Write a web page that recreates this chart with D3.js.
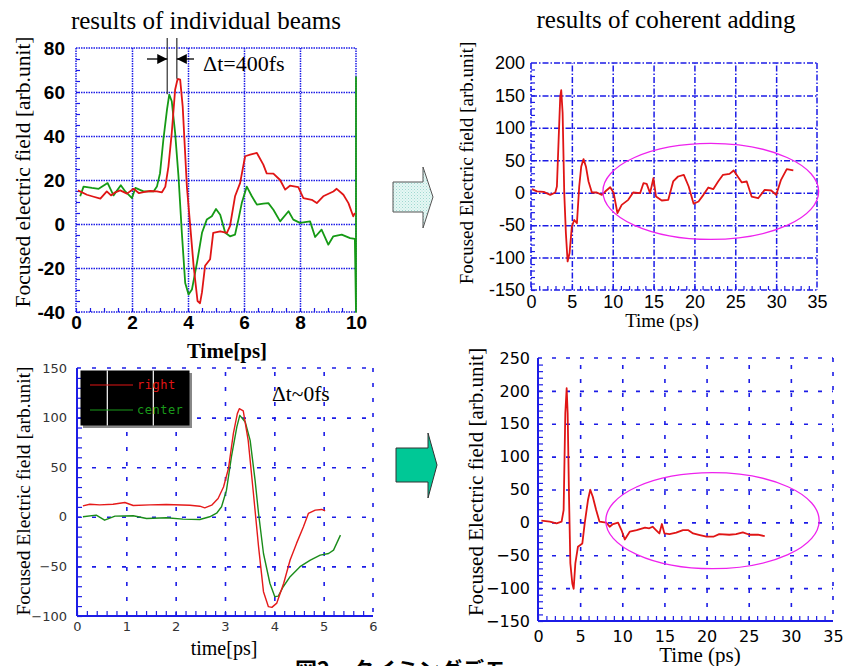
<!DOCTYPE html>
<html>
<head>
<meta charset="utf-8">
<script src="https://cdn.jsdelivr.net/npm/d3@7"></script>
<style>
  body { margin: 0; background: #fff; }
</style>
</head>
<body>
<script>
// ---- data: [time ps, field] ----
var beamRight = [[0.07,15.3],[0.39,13.3],[0.6,12.5],[0.87,11.5],[1.1,14.8],[1.25,13],[1.4,14.4],[1.58,15.3],[1.82,13.8],[2.06,16],
  [2.25,14],[2.41,14.5],[2.65,15],[2.89,14.8],[3.07,14.4],[3.19,17],[3.3,26],[3.42,41.4],[3.54,61],[3.63,66],[3.72,65.6],[3.81,53.5],
  [3.96,17],[4.08,-1],[4.2,-19],[4.34,-35],[4.43,-36],[4.5,-31],[4.61,-19],[4.79,-16],[4.9,-4],[5.15,-3.3],[5.39,-4],[5.5,-1],
  [5.68,12.6],[5.86,18.6],[6.04,30.8],[6.22,31.5],[6.46,32.3],[6.69,27],[6.81,23],[7.05,22.9],[7.29,20],[7.47,15.6],[7.64,17.4],
  [7.94,16.8],[8.12,11.8],[8.42,11],[8.6,9.5],[8.83,12.6],[9.19,14.8],[9.31,16],[9.55,13.3],[9.73,9.5],[9.9,3.5],[9.96,5]];
var beamCenter = [[0.15,12.6],[0.27,17],[0.57,16.4],[0.81,16],[1.13,18.6],[1.34,13],[1.6,17.6],[1.76,14.8],[2.0,11.8],[2.12,16.4],
  [2.41,14.8],[2.77,14.8],[2.89,17],[3.0,23],[3.12,38.3],[3.25,52],[3.33,58.8],[3.42,55.8],[3.54,41.4],[3.66,21.7],[3.78,-4],
  [3.9,-26.8],[4.02,-32],[4.14,-29.8],[4.32,-17.7],[4.5,-4],[4.67,2],[4.85,3.5],[5.0,6.8],[5.15,4.2],[5.33,-4],[5.5,-5.6],
  [5.68,-4.8],[5.8,2],[5.92,9.5],[6.1,17],[6.28,12.6],[6.46,8.8],[6.69,9.3],[6.87,9.5],[7.05,6.5],[7.29,1.2],[7.59,5.8],[7.76,2],
  [8.0,0.5],[8.36,1.2],[8.54,-5.9],[8.77,-2.6],[9.01,-9.4],[9.19,-5.6],[9.49,-4.8],[9.79,-6.4],[9.96,-6.8],[10,-40],[10,67]];
var addedOffset = [[0.12,5.5],[0.73,2],[1.55,1.3],[2.36,-3.3],[2.97,0.3],[3.17,9.6],[3.38,81.6],[3.58,148.5],[3.7,158],[3.87,123],
  [4.07,-0.7],[4.27,-62.5],[4.48,-106],[4.72,-93],[5.0,-52],[5.29,-42],[5.62,-47],[5.9,9.6],[6.15,40.5],[6.43,51.8],[6.72,40.5],
  [7.04,17.3],[7.45,0.3],[8.06,0.3],[8.67,-3.3],[9.08,1.8],[9.69,8.5],[10.1,0.3],[10.58,-31.6],[11.1,-18.7],[11.9,-11],[12.5,0.3],
  [13.35,-0.7],[13.76,14.7],[14.16,13.7],[14.57,-0.7],[14.98,22.4],[15.3,-5.9],[16.0,-12],[16.8,-11],[17.4,17.3],[18.0,25],
  [18.7,27.6],[19.3,9.6],[19.9,-17],[20.5,-13.6],[21.1,-3.3],[21.7,8],[22.3,5.5],[22.9,17.3],[23.5,27.6],[24.3,29],[24.8,34.3],
  [25.3,25],[25.8,15.8],[26.4,17.3],[27.0,-5.9],[27.8,-8.5],[28.6,4.4],[29.4,3.4],[30.0,-3.3],[30.6,19.9],[31.3,36.3],[32.1,34.3]];
var alignRight = [[0.12,11],[0.26,12.7],[0.46,12],[0.73,12.7],[0.97,14.4],[1.14,11.4],[1.48,12],[1.81,12.4],[2.29,11.7],[2.49,10.7],
  [2.59,9],[2.73,11.7],[2.86,18.5],[2.97,30],[3.07,48.7],[3.17,84],[3.25,104],[3.29,109],[3.37,106.7],[3.47,77],[3.57,26.8],
  [3.68,-30],[3.78,-75.5],[3.88,-90.6],[3.95,-91.3],[4.05,-87],[4.19,-67],[4.32,-43.6],[4.45,-26.8],[4.59,-10],[4.69,3.4],
  [4.83,6.7],[4.96,7.4],[5.03,6]];
var alignCenter = [[0.12,0],[0.39,1.7],[0.56,-3.4],[0.77,0.7],[1.14,1],[1.41,-1.7],[1.81,-1],[2.15,-2.3],[2.49,-2.7],[2.69,0],
  [2.83,3.6],[2.93,10.1],[3.03,26.8],[3.13,60.4],[3.24,90.6],[3.3,102.3],[3.41,95.6],[3.51,77],[3.61,36.8],[3.68,3.4],[3.78,-37],
  [3.91,-67],[4.01,-80.5],[4.08,-80],[4.18,-70.5],[4.32,-60.4],[4.52,-50.3],[4.73,-43.6],[4.93,-38.6],[5.1,-37],[5.2,-33.6],[5.34,-18.5]];
var addedAligned = [[0.4,2.5],[1.4,1],[2.2,-1.5],[2.8,1],[3.04,18.7],[3.24,166],[3.4,204],[3.52,166],[3.68,39],[3.84,-62.5],
  [4.07,-93],[4.23,-101],[4.43,-62.5],[4.74,-37],[5.26,-32],[5.54,-1.5],[5.93,34],[6.2,49.6],[6.5,39],[6.9,18.7],[7.3,1],
  [8.1,-0.5],[8.5,-6.6],[8.9,-2.5],[9.5,-0.5],[9.9,-11.7],[10.3,-26],[10.9,-14],[11.7,-11.7],[12.7,-8],[13.2,-9],[13.6,-6.6],
  [14.0,-11.7],[14.4,-16.8],[14.7,-2.5],[15.0,-16.8],[15.6,-17.8],[16.4,-15.7],[17.2,-11.7],[17.8,-11.7],[18.4,-16.8],[19.2,-19.4],
  [20.0,-21.8],[20.8,-21.8],[21.5,-17.8],[22.7,-18.8],[23.5,-17.8],[24.3,-15.3],[25.1,-18.8],[26.1,-18.8],[26.9,-21]];

// ticks
var p1XTicks = [0, 2, 4, 6, 8, 10], p1YTicks = [-40, -20, 0, 20, 40, 60, 80];
var p2XTicks = [0, 5, 10, 15, 20, 25, 30, 35], p2YTicks = [-150, -100, -50, 0, 50, 100, 150, 200];
var p3XTicks = [0, 1, 2, 3, 4, 5, 6], p3YTicks = [-100, -50, 0, 50, 100, 150];
var p4XTicks = [0, 5, 10, 15, 20, 25, 30, 35], p4YTicks = [-150, -100, -50, 0, 50, 100, 150, 200, 250];

var width = 853, height = 666;
var svg = d3.select("body").append("svg")
    .attr("width", width)
    .attr("height", height)
    .style("font-family", "'Liberation Serif', serif");

var blue = "#1c1ce6";
var serif = "'Liberation Serif', 'Times New Roman', serif";

function panel(o) {
  var x = d3.scaleLinear().domain(o.xDomain).range([o.left, o.right]);
  var y = d3.scaleLinear().domain(o.yDomain).range([o.bottom, o.top]);
  var w = o.right - o.left, h = o.bottom - o.top;
  var g = svg.append("g");

  var inX = o.xTicks.slice(1, -1), inY = o.yTicks.slice(1, -1);
  // grid
  g.append("g").attr("transform", "translate(0," + o.bottom + ")")
      .call(d3.axisBottom(x).tickValues(inX).tickSize(-h).tickFormat(""))
      .call(function(a) { a.select(".domain").remove(); })
      .selectAll("line").attr("stroke", blue).attr("stroke-width", o.gridWidth).attr("stroke-dasharray", o.gridDash);
  g.append("g").attr("transform", "translate(" + o.left + ",0)")
      .call(d3.axisLeft(y).tickValues(inY).tickSize(-w).tickFormat(""))
      .call(function(a) { a.select(".domain").remove(); })
      .selectAll("line").attr("stroke", blue).attr("stroke-width", o.gridWidth).attr("stroke-dasharray", o.gridDash);

  // minor ticks
  g.append("g").attr("transform", "translate(" + o.left + ",0)")
      .call(d3.axisLeft(y).tickValues(d3.range(o.yDomain[0], o.yDomain[1], o.yMinor)).tickSize(-o.minorLen).tickFormat(""))
      .call(function(a) { a.select(".domain").remove(); })
      .selectAll("line").attr("stroke", blue).attr("stroke-width", 1.2);
  g.append("g").attr("transform", "translate(0," + o.bottom + ")")
      .call(d3.axisBottom(x).tickValues(d3.range(o.xDomain[0], o.xDomain[1], o.xMinor)).tickSize(-o.minorLen).tickFormat(""))
      .call(function(a) { a.select(".domain").remove(); })
      .selectAll("line").attr("stroke", blue).attr("stroke-width", 1.2);

  // frame
  var top = g.append("g").attr("fill", "none").attr("stroke", blue);
  top.append("line").attr("x1", o.left).attr("x2", o.right).attr("y1", o.top).attr("y2", o.top)
      .attr("stroke-width", o.gridWidth).attr("stroke-dasharray", o.gridDash);
  top.append("line").attr("x1", o.right).attr("x2", o.right).attr("y1", o.top).attr("y2", o.bottom)
      .attr("stroke-width", o.gridWidth).attr("stroke-dasharray", o.gridDash);
  top.append("line").attr("x1", o.left).attr("x2", o.left).attr("y1", o.top).attr("y2", o.bottom)
      .attr("stroke-width", o.axisWidth).attr("stroke-dasharray", o.axisDash);
  top.append("line").attr("x1", o.left).attr("x2", o.right).attr("y1", o.bottom).attr("y2", o.bottom)
      .attr("stroke-width", o.axisWidth).attr("stroke-dasharray", o.axisDash);

  // tick labels
  var fmt = o.fmt || function(d) { return String(d); };
  var ax = g.append("g").attr("transform", "translate(0," + o.bottom + ")")
      .call(d3.axisBottom(x).tickValues(o.xTicks).tickSize(0).tickPadding(o.xPad).tickFormat(fmt));
  var ay = g.append("g").attr("transform", "translate(" + o.left + ",0)")
      .call(d3.axisLeft(y).tickValues(o.yTicks).tickSize(0).tickPadding(o.yPad).tickFormat(fmt));
  [ax, ay].forEach(function(a) {
    a.select(".domain").remove();
    a.attr("font-family", o.tickFont).attr("font-size", o.tickSize);
    a.selectAll("text").attr("fill", o.tickColor).attr("font-weight", o.tickWeight || "normal");
  });

  // axis titles
  svg.append("text")
      .attr("transform", "translate(" + o.yLabelX + "," + ((o.yLabelY)) + ") rotate(-90)")
      .attr("text-anchor", "middle")
      .attr("font-family", serif)
      .attr("font-size", o.yLabelSize)
      .text(o.yLabel);
  svg.append("text")
      .attr("x", o.xLabelX).attr("y", o.xLabelY)
      .attr("text-anchor", "middle")
      .attr("font-family", serif)
      .attr("font-size", o.xLabelSize)
      .attr("font-weight", o.xLabelWeight || "normal")
      .text(o.xLabel);

  return { x: x, y: y, g: g };
}

function curve(p, data, color, wdt) {
  var line = d3.line().x(function(d) { return p.x(d[0]); }).y(function(d) { return p.y(d[1]); });
  p.g.append("path").datum(data)
      .attr("d", line)
      .attr("fill", "none")
      .attr("stroke", color)
      .attr("stroke-width", wdt)
      .attr("stroke-linejoin", "round");
}

function ring(p, cx, cy, rx, ry) {
  p.g.append("ellipse")
      .attr("cx", p.x(cx)).attr("cy", p.y(cy))
      .attr("rx", p.x(cx + rx) - p.x(cx)).attr("ry", p.y(cy - ry) - p.y(cy))
      .attr("fill", "none").attr("stroke", "#ee22ee").attr("stroke-width", 1.3);
}

// ---- panel 1: individual beams ----
var p1 = panel({
  left: 76, right: 356, top: 48, bottom: 312,
  xDomain: [0, 10], yDomain: [-40, 80], xTicks: p1XTicks, yTicks: p1YTicks,
  xMinor: 0.5, yMinor: 5, minorLen: 4,
  gridDash: "1.5,1", gridWidth: 1.5, axisDash: "1.5,1", axisWidth: 1.5,
  tickFont: "'Liberation Sans', Arial, sans-serif", tickSize: 19, tickColor: "#000", tickWeight: "bold",
  xPad: 3, yPad: 11,
  yLabel: "Focused electric field [arb.unit]", yLabelX: 30, yLabelY: 172, yLabelSize: 21.5,
  xLabel: "Time[ps]", xLabelX: 227, xLabelY: 358, xLabelSize: 21, xLabelWeight: "bold"
});
curve(p1, beamCenter, "#159a15", 1.8);
curve(p1, beamRight, "#e01515", 1.8);

// delta t marker
var dt = p1.g.append("g");
dt.append("line").attr("x1", p1.x(3.26)).attr("x2", p1.x(3.26)).attr("y1", 38).attr("y2", p1.y(59))
    .attr("stroke", "#555").attr("stroke-width", 1.5);
dt.append("line").attr("x1", p1.x(3.6)).attr("x2", p1.x(3.6)).attr("y1", 38).attr("y2", p1.y(66))
    .attr("stroke", "#555").attr("stroke-width", 1.5);
var ay0 = 59;
dt.append("line").attr("x1", 147).attr("x2", p1.x(3.26)).attr("y1", ay0).attr("y2", ay0).attr("stroke", "#000").attr("stroke-width", 1.3);
dt.append("line").attr("x1", p1.x(3.6)).attr("x2", 194).attr("y1", ay0).attr("y2", ay0).attr("stroke", "#000").attr("stroke-width", 1.3);
var lx = p1.x(3.26), rx = p1.x(3.6);
dt.append("path").attr("d", "M" + lx + "," + ay0 + "L" + (lx - 10) + "," + (ay0 - 5) + "L" + (lx - 10) + "," + (ay0 + 5) + "Z").attr("fill", "#000");
dt.append("path").attr("d", "M" + rx + "," + ay0 + "L" + (rx + 10) + "," + (ay0 - 5) + "L" + (rx + 10) + "," + (ay0 + 5) + "Z").attr("fill", "#000");
svg.append("text").attr("x", 203).attr("y", 71).attr("font-family", serif).attr("font-size", 22).text("\u0394t=400fs");
svg.append("text").attr("x", 206).attr("y", 29).attr("text-anchor", "middle").attr("font-family", serif).attr("font-size", 25)
    .text("results of individual beams");

// ---- panel 2: coherent adding ----
var p2 = panel({
  left: 531, right: 817, top: 63, bottom: 290,
  xDomain: [0, 35], yDomain: [-150, 200], xTicks: p2XTicks, yTicks: p2YTicks,
  xMinor: 1, yMinor: 10, minorLen: 4,
  gridDash: "6,2,1.5,2", gridWidth: 1.5, axisDash: "6,2,1.5,2", axisWidth: 1.6,
  tickFont: "'Liberation Sans', Arial, sans-serif", tickSize: 18, tickColor: "#000",
  xPad: 5, yPad: 6,
  yLabel: "Focused Electric field [arb.unit]", yLabelX: 473, yLabelY: 163, yLabelSize: 19,
  xLabel: "Time (ps)", xLabelX: 662, xLabelY: 327, xLabelSize: 19
});
curve(p2, addedOffset, "#e01515", 1.8);
ring(p2, 22, 2, 13.2, 74);
svg.append("text").attr("x", 666).attr("y", 28).attr("text-anchor", "middle").attr("font-family", serif).attr("font-size", 25)
    .text("results of coherent adding");

// ---- panel 3: aligned beams ----
var p3 = panel({
  left: 77, right: 373, top: 368, bottom: 616,
  xDomain: [0, 6], yDomain: [-100, 150], xTicks: p3XTicks, yTicks: p3YTicks,
  xMinor: 0.2, yMinor: 10, minorLen: 5,
  gridDash: "4,11", gridWidth: 1.6, axisDash: null, axisWidth: 2,
  tickFont: "'DejaVu Sans', sans-serif", tickSize: 13, tickColor: "#333",
  fmt: d3.format("d"),
  xPad: 6, yPad: 10,
  yLabel: "Focused Electric field [arb.unit]", yLabelX: 30, yLabelY: 491, yLabelSize: 19.5,
  xLabel: "time[ps]", xLabelX: 224, xLabelY: 655, xLabelSize: 20
});
curve(p3, alignCenter, "#1a8c1a", 1.4);
curve(p3, alignRight, "#e51a1a", 1.4);

// legend
var leg = svg.append("g");
leg.append("rect").attr("x", 83).attr("y", 373).attr("width", 109).attr("height", 55).attr("fill", "#888");
leg.append("rect").attr("x", 80.5).attr("y", 370.5).attr("width", 109).attr("height", 55).attr("fill", "#000");
[107.3, 153.3].forEach(function(v) {
  leg.append("line").attr("x1", v).attr("x2", v).attr("y1", 370.5).attr("y2", 425.5).attr("stroke", "#fff").attr("stroke-width", 1.2);
});
var legendNames = ["right", "center"], legendColors = ["#e01515", "#1a9a1a"];
legendNames.forEach(function(n, i) {
  var yy = 385 + i * 25;
  leg.append("line").attr("x1", 90).attr("x2", 133).attr("y1", yy).attr("y2", yy).attr("stroke", legendColors[i]).attr("stroke-width", 1.2);
  leg.append("text").attr("x", 137).attr("y", yy + 4).attr("fill", legendColors[i])
      .attr("font-family", "'DejaVu Sans Mono', monospace").attr("font-size", 12).attr("letter-spacing", 0.5).text(n);
});
svg.append("text").attr("x", 272).attr("y", 401).attr("font-family", serif).attr("font-size", 21.5).text("\u0394t~0fs");

// ---- panel 4: coherent adding, aligned ----
var p4 = panel({
  left: 538, right: 833, top: 358, bottom: 621,
  xDomain: [0, 35], yDomain: [-150, 250], xTicks: p4XTicks, yTicks: p4YTicks,
  xMinor: 1, yMinor: 10, minorLen: 5,
  gridDash: "4,10", gridWidth: 1.6, axisDash: null, axisWidth: 2,
  tickFont: "'DejaVu Sans', sans-serif", tickSize: 16, tickColor: "#000",
  fmt: d3.format("d"),
  xPad: 10, yPad: 8,
  yLabel: "Focused Electric field [arb.unit]", yLabelX: 483, yLabelY: 482, yLabelSize: 21,
  xLabel: "Time (ps)", xLabelX: 700, xLabelY: 662, xLabelSize: 21
});
curve(p4, addedAligned, "#e01515", 1.8);
ring(p4, 20.7, 2.6, 12.66, 73);

// ---- arrows between the panels ----
var defs = svg.append("defs");
var pat = defs.append("pattern").attr("id", "stipple").attr("width", 3).attr("height", 3).attr("patternUnits", "userSpaceOnUse");
pat.append("rect").attr("width", 3).attr("height", 3).attr("fill", "#e6f7f4");
pat.append("rect").attr("x", 0).attr("y", 0).attr("width", 1).attr("height", 1).attr("fill", "#9fd8d0");
pat.append("rect").attr("x", 1.5).attr("y", 1.5).attr("width", 1).attr("height", 1).attr("fill", "#b8e4dd");

svg.append("path")
    .attr("d", "M393,182L423,182L423,167L433,197L423,228L423,212L393,212Z")
    .attr("fill", "url(#stipple)").attr("stroke", "#555").attr("stroke-width", 1);
svg.append("path")
    .attr("d", "M396,448L428,448L428,433L437,465L428,498L428,482L396,482Z")
    .attr("fill", "#00c896").attr("stroke", "#333").attr("stroke-width", 1);

// caption, cut off by the bottom edge
svg.append("text").attr("x", 295).attr("y", 678)
    .attr("font-family", "'Noto Sans CJK JP', sans-serif").attr("font-size", 22).attr("font-weight", "bold")
    .text("図2．タイミングデモ");
</script>
</body>
</html>
